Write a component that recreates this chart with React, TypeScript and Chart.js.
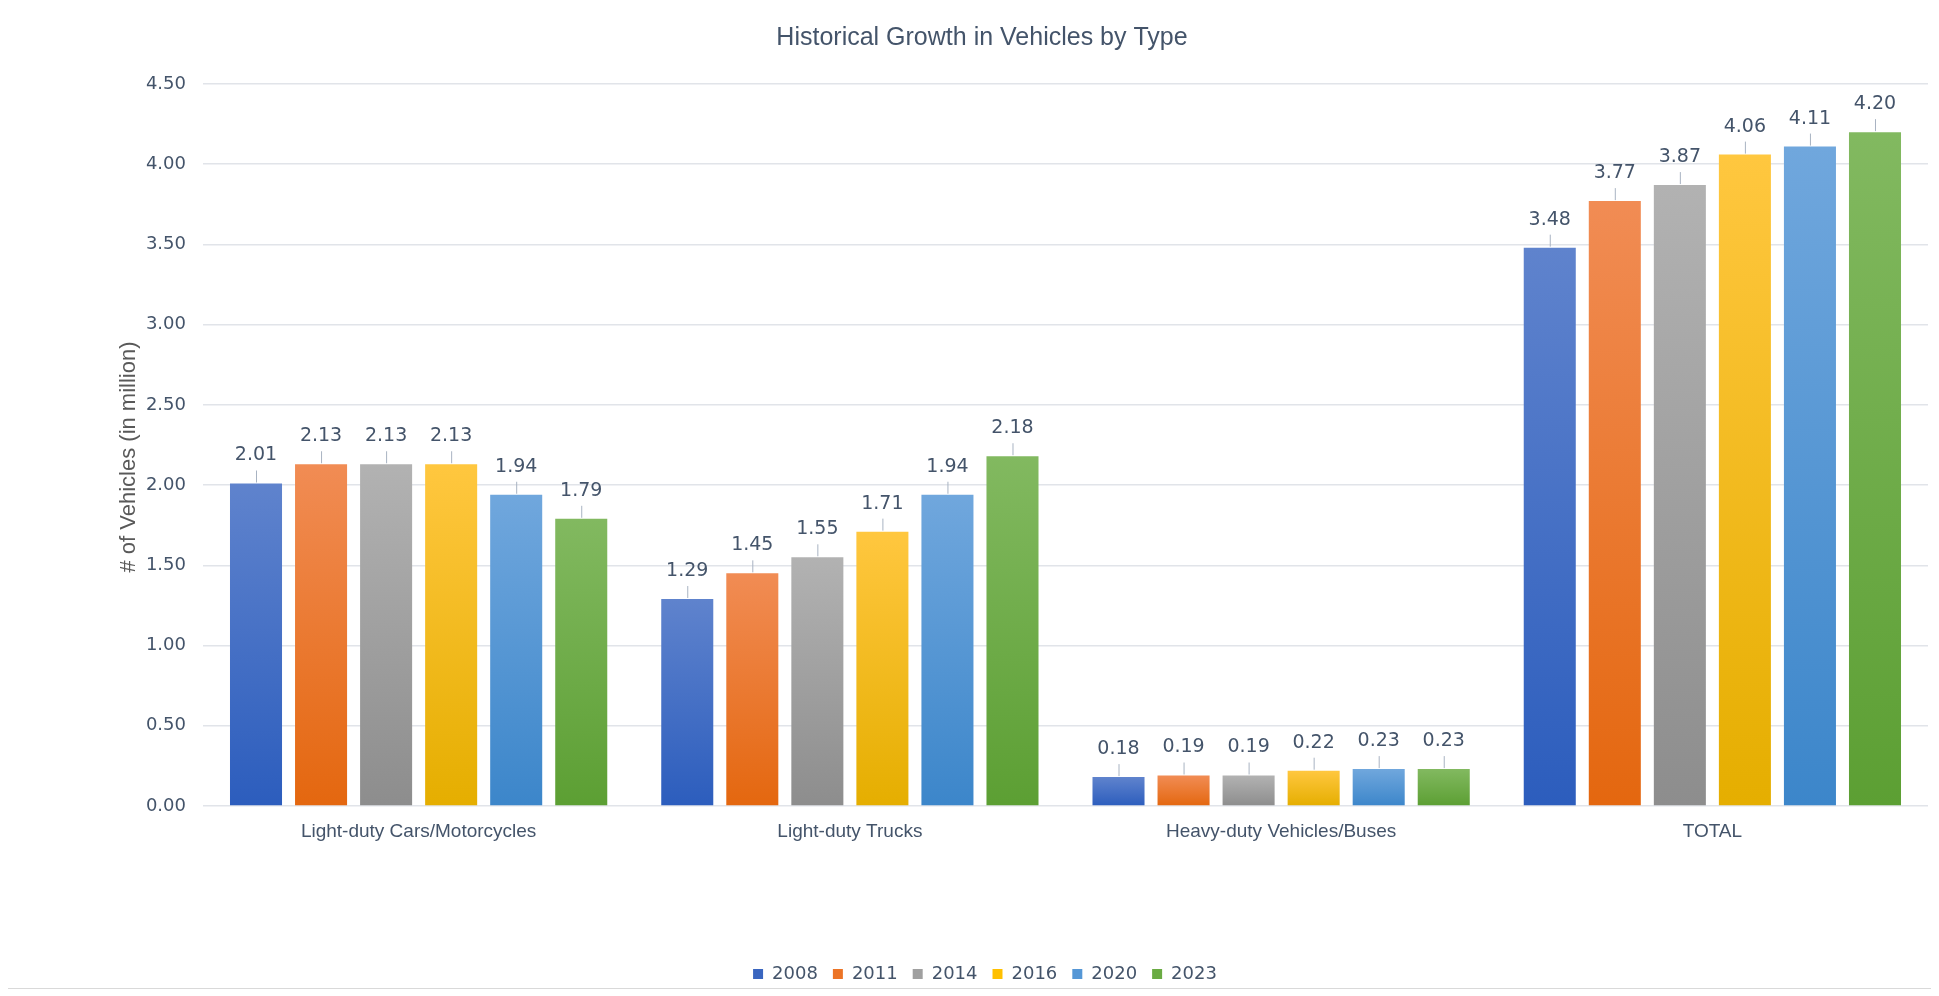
import React, { useEffect, useRef } from "react";
import { Chart, registerables } from "chart.js";

Chart.register(...registerables);

const categories = ["Light-duty Cars/Motorcycles", "Light-duty Trucks", "Heavy-duty Vehicles/Buses", "TOTAL"];
const years = ["2008", "2011", "2014", "2016", "2020", "2023"];
const s2008 = [2.01, 1.29, 0.18, 3.48];
const s2011 = [2.13, 1.45, 0.19, 3.77];
const s2014 = [2.13, 1.55, 0.19, 3.87];
const s2016 = [2.13, 1.71, 0.22, 4.06];
const s2020 = [1.94, 1.94, 0.23, 4.11];
const s2023 = [1.79, 2.18, 0.23, 4.2];
const seriesValues = [s2008, s2011, s2014, s2016, s2020, s2023];
const yAxisTitle = "# of Vehicles (in million)";

const solid = ["#3a66c0", "#ec7426", "#a0a0a0", "#ffc000", "#5597d6", "#6aab43"];
const topCol = ["#5f83cd", "#f18c54", "#b2b2b2", "#ffc73f", "#70a7dd", "#82b960"];
const botCol = ["#2c5dbd", "#e4670f", "#8d8d8d", "#e5ae00", "#3c86ca", "#5c9f33"];

const TEXT = "#44546a";

const labelPlugin = {
  id: "barLabels",
  afterLayout(chart: any) {
    if (chart.legend) {
      chart.legend.left += 17;
      chart.legend.right += 17;
    }
    if (chart.titleBlock) {
      chart.titleBlock.left += 14;
      chart.titleBlock.right += 14;
    }
  },
  afterDraw(chart: any) {
    const ctx = chart.ctx;
    ctx.save();
    ctx.translate(121, 452);
    ctx.rotate(-Math.PI / 2);
    ctx.fillStyle = "#595959";
    ctx.font = "22px 'Liberation Sans'";
    ctx.textAlign = "center";
    ctx.textBaseline = "middle";
    ctx.fillText(yAxisTitle, 0, 0);
    ctx.restore();
  },
  afterDatasetsDraw(chart: any) {
    const ctx = chart.ctx;
    ctx.save();
    chart.data.datasets.forEach((ds: any, di: number) => {
      const meta = chart.getDatasetMeta(di);
      meta.data.forEach((el: any, i: number) => {
        const v = ds.data[i];
        const x = el.x;
        const top = el.y;
        ctx.strokeStyle = "#a8b3c2";
        ctx.lineWidth = 1;
        ctx.beginPath();
        ctx.moveTo(x + 0.5, top - 1);
        ctx.lineTo(x + 0.5, top - 13);
        ctx.stroke();
        ctx.fillStyle = TEXT;
        ctx.font = "19px 'DejaVu Sans'";
        ctx.textAlign = "center";
        ctx.textBaseline = "middle";
        ctx.fillText(v.toFixed(2), x, top - 28);
      });
    });
    ctx.restore();
  },
};

export default function App() {
  const ref = useRef<HTMLCanvasElement | null>(null);
  useEffect(() => {
    if (!ref.current) return;
    const chart = new Chart(ref.current, {
      type: "bar",
      data: {
        labels: categories,
        datasets: years.map((y, i) => ({
          label: y,
          data: seriesValues[i],
          backgroundColor: (c: any) => {
            const ch = c.chart;
            if (!ch.chartArea || c.type !== "data" || !c.parsed) return solid[i];
            const ys = ch.scales.y;
            const t = ys.getPixelForValue(c.parsed.y);
            const b = ys.getPixelForValue(0);
            if (!isFinite(t) || !isFinite(b) || b - t < 1) return solid[i];
            const g = ch.ctx.createLinearGradient(0, t, 0, b);
            g.addColorStop(0, topCol[i]);
            g.addColorStop(1, botCol[i]);
            return g;
          },
          borderWidth: 0,
          categoryPercentage: 0.905,
          barPercentage: 0.8,
        })),
      },
      options: {
        animation: false,
        responsive: false,
        maintainAspectRatio: false,
        layout: { padding: { top: 0, right: 4, bottom: -5, left: 0 } },
        plugins: {
          title: {
            display: true,
            text: "Historical Growth in Vehicles by Type",
            color: TEXT,
            font: { family: "'Liberation Sans'", size: 25, weight: "normal" },
            padding: { top: 18, bottom: 31 },
          },
          legend: {
            position: "bottom",
            labels: {
              boxWidth: 10,
              boxHeight: 10,
              padding: 15,
              color: TEXT,
              font: { family: "'DejaVu Sans'", size: 18 },
              generateLabels: (ch: any) =>
                ch.data.datasets.map((d: any, i: number) => ({
                  text: d.label,
                  fillStyle: solid[i],
                  strokeStyle: solid[i],
                  lineWidth: 0,
                  hidden: false,
                  datasetIndex: i,
                  fontColor: TEXT,
                })),
            },
          },
          tooltip: { enabled: false },
        },
        scales: {
          x: {
            grid: { display: false, drawTicks: false },
            border: { display: false },
            ticks: {
              color: TEXT,
              font: { family: "'Liberation Sans'", size: 19 },
              padding: 14,
            },
            afterFit: (s: any) => {
              s.height = 144;
            },
          },
          y: {
            min: 0,
            max: 4.5,
            grid: { color: "#e1e4e9", lineWidth: 1.5, drawTicks: false },
            border: { display: false },
            ticks: {
              stepSize: 0.5,
              color: TEXT,
              font: { family: "'DejaVu Sans'", size: 18 },
              padding: 17,
              callback: (v: any) => Number(v).toFixed(2),
            },
            title: { display: false },
            afterFit: (s: any) => {
              s.width = 195;
            },
          },
        },
      },
      plugins: [labelPlugin],
    } as any);
    return () => chart.destroy();
  }, []);
  return (
    <div
      style={{
        marginTop: -4,
        marginLeft: -1,
        width: 1926,
        height: 985,
        border: "1px solid #d9d9d9",
        boxSizing: "border-box",
        background: "#fff",
      }}
    >
      <canvas ref={ref} width={1924} height={983} style={{ display: "block" }} />
    </div>
  );
}
